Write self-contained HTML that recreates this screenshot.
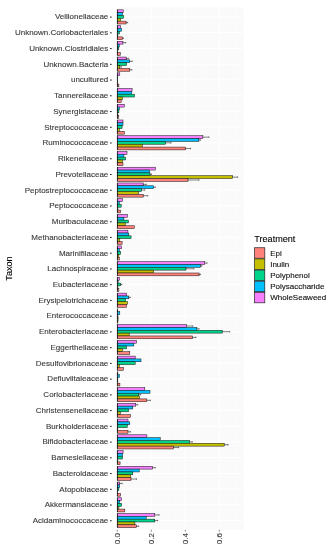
<!DOCTYPE html>
<html><head><meta charset="utf-8"><style>
html,body{margin:0;padding:0;background:#fff;}
svg{display:block;will-change:transform;font-family:"Liberation Sans",sans-serif;}
</style></head><body>
<svg width="332" height="550" viewBox="0 0 332 550">
<rect width="332" height="550" fill="#fff"/>
<rect x="117" y="7.5" width="126.5" height="522" fill="#FAFAFA"/>
<line x1="134.3" y1="7.5" x2="134.3" y2="529.5" stroke="#FFFFFF" stroke-width="0.5"/>
<line x1="168.3" y1="7.5" x2="168.3" y2="529.5" stroke="#FFFFFF" stroke-width="0.5"/>
<line x1="202.3" y1="7.5" x2="202.3" y2="529.5" stroke="#FFFFFF" stroke-width="0.5"/>
<line x1="236.3" y1="7.5" x2="236.3" y2="529.5" stroke="#FFFFFF" stroke-width="0.5"/>
<line x1="151.3" y1="7.5" x2="151.3" y2="529.5" stroke="#FFFFFF" stroke-width="1"/>
<line x1="185.3" y1="7.5" x2="185.3" y2="529.5" stroke="#FFFFFF" stroke-width="1"/>
<line x1="219.3" y1="7.5" x2="219.3" y2="529.5" stroke="#FFFFFF" stroke-width="1"/>
<line x1="117" y1="16.9" x2="243.5" y2="16.9" stroke="#FFFFFF" stroke-width="1"/>
<line x1="117" y1="32.64" x2="243.5" y2="32.64" stroke="#FFFFFF" stroke-width="1"/>
<line x1="117" y1="48.38" x2="243.5" y2="48.38" stroke="#FFFFFF" stroke-width="1"/>
<line x1="117" y1="64.12" x2="243.5" y2="64.12" stroke="#FFFFFF" stroke-width="1"/>
<line x1="117" y1="79.86" x2="243.5" y2="79.86" stroke="#FFFFFF" stroke-width="1"/>
<line x1="117" y1="95.6" x2="243.5" y2="95.6" stroke="#FFFFFF" stroke-width="1"/>
<line x1="117" y1="111.34" x2="243.5" y2="111.34" stroke="#FFFFFF" stroke-width="1"/>
<line x1="117" y1="127.08" x2="243.5" y2="127.08" stroke="#FFFFFF" stroke-width="1"/>
<line x1="117" y1="142.82" x2="243.5" y2="142.82" stroke="#FFFFFF" stroke-width="1"/>
<line x1="117" y1="158.56" x2="243.5" y2="158.56" stroke="#FFFFFF" stroke-width="1"/>
<line x1="117" y1="174.3" x2="243.5" y2="174.3" stroke="#FFFFFF" stroke-width="1"/>
<line x1="117" y1="190.04" x2="243.5" y2="190.04" stroke="#FFFFFF" stroke-width="1"/>
<line x1="117" y1="205.78" x2="243.5" y2="205.78" stroke="#FFFFFF" stroke-width="1"/>
<line x1="117" y1="221.52" x2="243.5" y2="221.52" stroke="#FFFFFF" stroke-width="1"/>
<line x1="117" y1="237.26" x2="243.5" y2="237.26" stroke="#FFFFFF" stroke-width="1"/>
<line x1="117" y1="253" x2="243.5" y2="253" stroke="#FFFFFF" stroke-width="1"/>
<line x1="117" y1="268.74" x2="243.5" y2="268.74" stroke="#FFFFFF" stroke-width="1"/>
<line x1="117" y1="284.48" x2="243.5" y2="284.48" stroke="#FFFFFF" stroke-width="1"/>
<line x1="117" y1="300.22" x2="243.5" y2="300.22" stroke="#FFFFFF" stroke-width="1"/>
<line x1="117" y1="315.96" x2="243.5" y2="315.96" stroke="#FFFFFF" stroke-width="1"/>
<line x1="117" y1="331.7" x2="243.5" y2="331.7" stroke="#FFFFFF" stroke-width="1"/>
<line x1="117" y1="347.44" x2="243.5" y2="347.44" stroke="#FFFFFF" stroke-width="1"/>
<line x1="117" y1="363.18" x2="243.5" y2="363.18" stroke="#FFFFFF" stroke-width="1"/>
<line x1="117" y1="378.92" x2="243.5" y2="378.92" stroke="#FFFFFF" stroke-width="1"/>
<line x1="117" y1="394.66" x2="243.5" y2="394.66" stroke="#FFFFFF" stroke-width="1"/>
<line x1="117" y1="410.4" x2="243.5" y2="410.4" stroke="#FFFFFF" stroke-width="1"/>
<line x1="117" y1="426.14" x2="243.5" y2="426.14" stroke="#FFFFFF" stroke-width="1"/>
<line x1="117" y1="441.88" x2="243.5" y2="441.88" stroke="#FFFFFF" stroke-width="1"/>
<line x1="117" y1="457.62" x2="243.5" y2="457.62" stroke="#FFFFFF" stroke-width="1"/>
<line x1="117" y1="473.36" x2="243.5" y2="473.36" stroke="#FFFFFF" stroke-width="1"/>
<line x1="117" y1="489.1" x2="243.5" y2="489.1" stroke="#FFFFFF" stroke-width="1"/>
<line x1="117" y1="504.84" x2="243.5" y2="504.84" stroke="#FFFFFF" stroke-width="1"/>
<line x1="117" y1="520.58" x2="243.5" y2="520.58" stroke="#FFFFFF" stroke-width="1"/>
<g stroke="#111" stroke-width="0.5"><rect x="117.3" y="9.82" width="5.95" height="2.83" fill="#F67FFF"/><rect x="117.3" y="12.65" width="5.2" height="2.83" fill="#00C1FF"/><rect x="117.3" y="15.48" width="6.3" height="2.83" fill="#00D48B"/><rect x="117.3" y="18.32" width="3.4" height="2.83" fill="#C4C000"/><rect x="117.3" y="21.15" width="8.8" height="2.83" fill="#FF837A"/><rect x="117.3" y="25.56" width="3.4" height="2.83" fill="#F67FFF"/><rect x="117.3" y="28.39" width="4.3" height="2.83" fill="#00C1FF"/><rect x="117.3" y="31.22" width="2.1" height="2.83" fill="#00D48B"/><rect x="117.3" y="34.06" width="0.5" height="2.83" fill="#C4C000"/><rect x="117.3" y="36.89" width="5.2" height="2.83" fill="#FF837A"/><rect x="117.3" y="41.3" width="5.7" height="2.83" fill="#F67FFF"/><rect x="117.3" y="44.13" width="2" height="2.83" fill="#00C1FF"/><rect x="117.3" y="46.96" width="1.5" height="2.83" fill="#00D48B"/><rect x="117.3" y="49.8" width="0.4" height="2.83" fill="#C4C000"/><rect x="117.3" y="52.63" width="3" height="2.83" fill="#FF837A"/><rect x="117.3" y="57.04" width="8.9" height="2.83" fill="#F67FFF"/><rect x="117.3" y="59.87" width="12.5" height="2.83" fill="#00C1FF"/><rect x="117.3" y="62.7" width="9.4" height="2.83" fill="#00D48B"/><rect x="117.3" y="65.54" width="2.5" height="2.83" fill="#C4C000"/><rect x="117.3" y="68.37" width="12.5" height="2.83" fill="#FF837A"/><rect x="117.3" y="72.78" width="2.5" height="2.83" fill="#F67FFF"/><rect x="117.3" y="75.61" width="0.4" height="2.83" fill="#00C1FF"/><rect x="117.3" y="78.44" width="0.4" height="2.83" fill="#00D48B"/><rect x="117.3" y="81.28" width="0.4" height="2.83" fill="#C4C000"/><rect x="117.3" y="84.11" width="1.6" height="2.83" fill="#FF837A"/><rect x="117.3" y="88.52" width="14.8" height="2.83" fill="#F67FFF"/><rect x="117.3" y="91.35" width="14.4" height="2.83" fill="#00C1FF"/><rect x="117.3" y="94.18" width="17.1" height="2.83" fill="#00D48B"/><rect x="117.3" y="97.02" width="5.1" height="2.83" fill="#C4C000"/><rect x="117.3" y="99.85" width="3.9" height="2.83" fill="#FF837A"/><rect x="117.3" y="104.26" width="7" height="2.83" fill="#F67FFF"/><rect x="117.3" y="107.09" width="2" height="2.83" fill="#00C1FF"/><rect x="117.3" y="109.92" width="1.6" height="2.83" fill="#00D48B"/><rect x="117.3" y="112.76" width="0.6" height="2.83" fill="#C4C000"/><rect x="117.3" y="115.59" width="1.5" height="2.83" fill="#FF837A"/><rect x="117.3" y="120" width="5.7" height="2.83" fill="#F67FFF"/><rect x="117.3" y="122.83" width="5.7" height="2.83" fill="#00C1FF"/><rect x="117.3" y="125.66" width="4.8" height="2.83" fill="#00D48B"/><rect x="117.3" y="128.5" width="2" height="2.83" fill="#C4C000"/><rect x="117.3" y="131.33" width="7" height="2.83" fill="#FF837A"/><rect x="117.3" y="135.74" width="85.6" height="2.83" fill="#F67FFF"/><rect x="117.3" y="138.57" width="81.6" height="2.83" fill="#00C1FF"/><rect x="117.3" y="141.4" width="48.3" height="2.83" fill="#00D48B"/><rect x="117.3" y="144.24" width="25.1" height="2.83" fill="#C4C000"/><rect x="117.3" y="147.07" width="68.3" height="2.83" fill="#FF837A"/><rect x="117.3" y="151.48" width="9.7" height="2.83" fill="#F67FFF"/><rect x="117.3" y="154.31" width="6.6" height="2.83" fill="#00C1FF"/><rect x="117.3" y="157.14" width="8.4" height="2.83" fill="#00D48B"/><rect x="117.3" y="159.98" width="5.2" height="2.83" fill="#C4C000"/><rect x="117.3" y="162.81" width="5.7" height="2.83" fill="#FF837A"/><rect x="117.3" y="167.22" width="38.1" height="2.83" fill="#F67FFF"/><rect x="117.3" y="170.05" width="32.2" height="2.83" fill="#00C1FF"/><rect x="117.3" y="172.88" width="32.8" height="2.83" fill="#00D48B"/><rect x="117.3" y="175.72" width="115.3" height="2.83" fill="#C4C000"/><rect x="117.3" y="178.55" width="70.7" height="2.83" fill="#FF837A"/><rect x="117.3" y="182.96" width="25.9" height="2.83" fill="#F67FFF"/><rect x="117.3" y="185.79" width="36.4" height="2.83" fill="#00C1FF"/><rect x="117.3" y="188.62" width="24.4" height="2.83" fill="#00D48B"/><rect x="117.3" y="191.46" width="21.3" height="2.83" fill="#C4C000"/><rect x="117.3" y="194.29" width="25.9" height="2.83" fill="#FF837A"/><rect x="117.3" y="198.7" width="5.2" height="2.83" fill="#F67FFF"/><rect x="117.3" y="201.53" width="2.1" height="2.83" fill="#00C1FF"/><rect x="117.3" y="204.36" width="3.9" height="2.83" fill="#00D48B"/><rect x="117.3" y="207.2" width="0.6" height="2.83" fill="#C4C000"/><rect x="117.3" y="210.03" width="3.4" height="2.83" fill="#FF837A"/><rect x="117.3" y="214.44" width="10.2" height="2.83" fill="#F67FFF"/><rect x="117.3" y="217.27" width="6.6" height="2.83" fill="#00C1FF"/><rect x="117.3" y="220.1" width="11.1" height="2.83" fill="#00D48B"/><rect x="117.3" y="222.94" width="7.9" height="2.83" fill="#C4C000"/><rect x="117.3" y="225.77" width="17" height="2.83" fill="#FF837A"/><rect x="117.3" y="230.18" width="10.6" height="2.83" fill="#F67FFF"/><rect x="117.3" y="233.01" width="11.5" height="2.83" fill="#00C1FF"/><rect x="117.3" y="235.84" width="13.8" height="2.83" fill="#00D48B"/><rect x="117.3" y="238.68" width="2.5" height="2.83" fill="#C4C000"/><rect x="117.3" y="241.51" width="4.8" height="2.83" fill="#FF837A"/><rect x="117.3" y="245.92" width="4.3" height="2.83" fill="#F67FFF"/><rect x="117.3" y="248.75" width="2.1" height="2.83" fill="#00C1FF"/><rect x="117.3" y="251.58" width="3.4" height="2.83" fill="#00D48B"/><rect x="117.3" y="254.42" width="1.6" height="2.83" fill="#C4C000"/><rect x="117.3" y="257.25" width="2.1" height="2.83" fill="#FF837A"/><rect x="117.3" y="261.66" width="87.5" height="2.83" fill="#F67FFF"/><rect x="117.3" y="264.49" width="83.2" height="2.83" fill="#00C1FF"/><rect x="117.3" y="267.32" width="68.7" height="2.83" fill="#00D48B"/><rect x="117.3" y="270.16" width="36.4" height="2.83" fill="#C4C000"/><rect x="117.3" y="272.99" width="81.8" height="2.83" fill="#FF837A"/><rect x="117.3" y="277.4" width="2.1" height="2.83" fill="#F67FFF"/><rect x="117.3" y="280.23" width="0.8" height="2.83" fill="#00C1FF"/><rect x="117.3" y="283.06" width="3.4" height="2.83" fill="#00D48B"/><rect x="117.3" y="285.9" width="0.6" height="2.83" fill="#C4C000"/><rect x="117.3" y="288.73" width="1.6" height="2.83" fill="#FF837A"/><rect x="117.3" y="293.14" width="9.3" height="2.83" fill="#F67FFF"/><rect x="117.3" y="295.97" width="11.5" height="2.83" fill="#00C1FF"/><rect x="117.3" y="298.8" width="8.4" height="2.83" fill="#00D48B"/><rect x="117.3" y="301.64" width="10.2" height="2.83" fill="#C4C000"/><rect x="117.3" y="304.47" width="9.3" height="2.83" fill="#FF837A"/><rect x="117.3" y="308.88" width="0.5" height="2.83" fill="#F67FFF"/><rect x="117.3" y="311.71" width="2.5" height="2.83" fill="#00C1FF"/><rect x="117.3" y="314.54" width="0.6" height="2.83" fill="#00D48B"/><rect x="117.3" y="317.38" width="0.8" height="2.83" fill="#C4C000"/><rect x="117.3" y="320.21" width="0.6" height="2.83" fill="#FF837A"/><rect x="117.3" y="324.62" width="69.1" height="2.83" fill="#F67FFF"/><rect x="117.3" y="327.45" width="79.6" height="2.83" fill="#00C1FF"/><rect x="117.3" y="330.28" width="104.9" height="2.83" fill="#00D48B"/><rect x="117.3" y="333.12" width="11.9" height="2.83" fill="#C4C000"/><rect x="117.3" y="335.95" width="75" height="2.83" fill="#FF837A"/><rect x="117.3" y="340.36" width="19.2" height="2.83" fill="#F67FFF"/><rect x="117.3" y="343.19" width="16.5" height="2.83" fill="#00C1FF"/><rect x="117.3" y="346.02" width="9.3" height="2.83" fill="#00D48B"/><rect x="117.3" y="348.86" width="5.2" height="2.83" fill="#C4C000"/><rect x="117.3" y="351.69" width="12.5" height="2.83" fill="#FF837A"/><rect x="117.3" y="356.1" width="17.9" height="2.83" fill="#F67FFF"/><rect x="117.3" y="358.93" width="23.7" height="2.83" fill="#00C1FF"/><rect x="117.3" y="361.76" width="17.9" height="2.83" fill="#00D48B"/><rect x="117.3" y="364.6" width="2.1" height="2.83" fill="#C4C000"/><rect x="117.3" y="367.43" width="6.1" height="2.83" fill="#FF837A"/><rect x="117.3" y="371.84" width="0.6" height="2.83" fill="#F67FFF"/><rect x="117.3" y="374.67" width="2.2" height="2.83" fill="#00C1FF"/><rect x="117.3" y="377.5" width="0.5" height="2.83" fill="#00D48B"/><rect x="117.3" y="380.34" width="0.5" height="2.83" fill="#C4C000"/><rect x="117.3" y="383.17" width="2.6" height="2.83" fill="#FF837A"/><rect x="117.3" y="387.58" width="27.5" height="2.83" fill="#F67FFF"/><rect x="117.3" y="390.41" width="32.7" height="2.83" fill="#00C1FF"/><rect x="117.3" y="393.24" width="21.5" height="2.83" fill="#00D48B"/><rect x="117.3" y="396.08" width="22.1" height="2.83" fill="#C4C000"/><rect x="117.3" y="398.91" width="29.6" height="2.83" fill="#FF837A"/><rect x="117.3" y="403.32" width="18.5" height="2.83" fill="#F67FFF"/><rect x="117.3" y="406.15" width="15.5" height="2.83" fill="#00C1FF"/><rect x="117.3" y="408.98" width="11.3" height="2.83" fill="#00D48B"/><rect x="117.3" y="411.82" width="3.1" height="2.83" fill="#C4C000"/><rect x="117.3" y="414.65" width="13.1" height="2.83" fill="#FF837A"/><rect x="117.3" y="419.06" width="10.7" height="2.83" fill="#F67FFF"/><rect x="117.3" y="421.89" width="12.5" height="2.83" fill="#00C1FF"/><rect x="117.3" y="424.72" width="10" height="2.83" fill="#00D48B"/><rect x="117.3" y="427.56" width="0.5" height="2.83" fill="#C4C000"/><rect x="117.3" y="430.39" width="10.7" height="2.83" fill="#FF837A"/><rect x="117.3" y="434.8" width="29.6" height="2.83" fill="#F67FFF"/><rect x="117.3" y="437.63" width="42.9" height="2.83" fill="#00C1FF"/><rect x="117.3" y="440.46" width="72.3" height="2.83" fill="#00D48B"/><rect x="117.3" y="443.3" width="106.9" height="2.83" fill="#C4C000"/><rect x="117.3" y="446.13" width="56" height="2.83" fill="#FF837A"/><rect x="117.3" y="450.54" width="5.8" height="2.83" fill="#F67FFF"/><rect x="117.3" y="453.37" width="5.2" height="2.83" fill="#00C1FF"/><rect x="117.3" y="456.2" width="5.2" height="2.83" fill="#00D48B"/><rect x="117.3" y="459.04" width="0.5" height="2.83" fill="#C4C000"/><rect x="117.3" y="461.87" width="2.8" height="2.83" fill="#FF837A"/><rect x="117.3" y="466.28" width="35.3" height="2.83" fill="#F67FFF"/><rect x="117.3" y="469.11" width="21.9" height="2.83" fill="#00C1FF"/><rect x="117.3" y="471.94" width="15.5" height="2.83" fill="#00D48B"/><rect x="117.3" y="474.78" width="13.4" height="2.83" fill="#C4C000"/><rect x="117.3" y="477.61" width="13.7" height="2.83" fill="#FF837A"/><rect x="117.3" y="482.02" width="2.5" height="2.83" fill="#F67FFF"/><rect x="117.3" y="484.85" width="2.4" height="2.83" fill="#00C1FF"/><rect x="117.3" y="487.68" width="1.6" height="2.83" fill="#00D48B"/><rect x="117.3" y="490.52" width="0.4" height="2.83" fill="#C4C000"/><rect x="117.3" y="493.35" width="3.4" height="2.83" fill="#FF837A"/><rect x="117.3" y="497.76" width="4.3" height="2.83" fill="#F67FFF"/><rect x="117.3" y="500.59" width="2.5" height="2.83" fill="#00C1FF"/><rect x="117.3" y="503.42" width="4.3" height="2.83" fill="#00D48B"/><rect x="117.3" y="506.26" width="1.6" height="2.83" fill="#C4C000"/><rect x="117.3" y="509.09" width="7.5" height="2.83" fill="#FF837A"/><rect x="117.3" y="513.5" width="37.5" height="2.83" fill="#F67FFF"/><rect x="117.3" y="516.33" width="28.9" height="2.83" fill="#00C1FF"/><rect x="117.3" y="519.16" width="37.5" height="2.83" fill="#00D48B"/><rect x="117.3" y="522" width="17.6" height="2.83" fill="#C4C000"/><rect x="117.3" y="524.83" width="19.1" height="2.83" fill="#FF837A"/></g>
<g stroke="#000" stroke-width="0.5" fill="none"><path d="M125.8 22.57H127.7M127.7 21.87V23.27"/><path d="M122.2 38.31H123.4M123.4 37.61V39.01"/><path d="M122.7 42.71H125.8M125.8 42.01V43.41"/><path d="M125.9 58.45H128.4M128.4 57.75V59.15"/><path d="M129.5 61.29H132.2M132.2 60.59V61.99"/><path d="M119.5 66.95H121.4M121.4 66.25V67.65"/><path d="M129.5 69.79H131.9M131.9 69.09V70.49"/><path d="M202.6 137.15H208.9M208.9 136.45V137.85"/><path d="M198.6 139.99H200.4M200.4 139.29V140.69"/><path d="M165.3 142.82H171M171 142.12V143.52"/><path d="M185.3 148.49H190.6M190.6 147.79V149.19"/><path d="M149.8 174.3H151.4M151.4 173.6V175"/><path d="M232.3 177.13H237.6M237.6 176.43V177.83"/><path d="M187.7 179.97H199M199 179.27V180.67"/><path d="M142.9 184.37H146.3M146.3 183.67V185.07"/><path d="M153.4 187.21H155.3M155.3 186.51V187.91"/><path d="M141.4 190.04H144.8M144.8 189.34V190.74"/><path d="M142.9 195.71H147.8M147.8 195.01V196.41"/><path d="M204.5 263.07H207M207 262.37V263.77"/><path d="M200.2 265.91H201.9M201.9 265.21V266.61"/><path d="M185.7 268.74H193.9M193.9 268.04V269.44"/><path d="M198.8 274.41H200.4M200.4 273.71V275.11"/><path d="M120.4 284.48H121.9M121.9 283.78V285.18"/><path d="M128.5 297.39H130.3M130.3 296.69V298.09"/><path d="M186.1 326.03H192.8M192.8 325.33V326.73"/><path d="M196.6 328.87H199.1M199.1 328.17V329.57"/><path d="M221.9 331.7H229.7M229.7 331V332.4"/><path d="M192 337.37H196M196 336.67V338.07"/><path d="M138.5 394.66H140.7M140.7 393.96V395.36"/><path d="M146.6 400.33H150.3M150.3 399.63V401.03"/><path d="M135.5 404.73H137.7M137.7 404.03V405.43"/><path d="M127.7 431.81H130.4M130.4 431.11V432.51"/><path d="M189.3 441.88H192.3M192.3 441.18V442.58"/><path d="M223.9 444.71H228.1M228.1 444.01V445.41"/><path d="M173 447.55H178.7M178.7 446.85V448.25"/><path d="M152.3 467.69H155.2M155.2 466.99V468.39"/><path d="M130.7 479.03H136.5M136.5 478.33V479.73"/><path d="M119.5 483.43H122.2M122.2 482.73V484.13"/><path d="M154.5 514.91H159.1M159.1 514.21V515.61"/><path d="M154.5 520.58H157.6M157.6 519.88V521.28"/><path d="M136.1 526.25H138.7M138.7 525.55V526.95"/></g>
<g stroke="#111" stroke-width="0.7"><line x1="117.4" y1="9.82" x2="117.4" y2="23.98"/><line x1="117.4" y1="25.56" x2="117.4" y2="39.72"/><line x1="117.4" y1="41.3" x2="117.4" y2="55.46"/><line x1="117.4" y1="57.04" x2="117.4" y2="71.2"/><line x1="117.4" y1="72.78" x2="117.4" y2="86.94"/><line x1="117.4" y1="88.52" x2="117.4" y2="102.68"/><line x1="117.4" y1="104.26" x2="117.4" y2="118.42"/><line x1="117.4" y1="120" x2="117.4" y2="134.16"/><line x1="117.4" y1="135.74" x2="117.4" y2="149.9"/><line x1="117.4" y1="151.48" x2="117.4" y2="165.64"/><line x1="117.4" y1="167.22" x2="117.4" y2="181.38"/><line x1="117.4" y1="182.96" x2="117.4" y2="197.12"/><line x1="117.4" y1="198.7" x2="117.4" y2="212.86"/><line x1="117.4" y1="214.44" x2="117.4" y2="228.6"/><line x1="117.4" y1="230.18" x2="117.4" y2="244.34"/><line x1="117.4" y1="245.92" x2="117.4" y2="260.08"/><line x1="117.4" y1="261.66" x2="117.4" y2="275.82"/><line x1="117.4" y1="277.4" x2="117.4" y2="291.56"/><line x1="117.4" y1="293.14" x2="117.4" y2="307.3"/><line x1="117.4" y1="308.88" x2="117.4" y2="323.04"/><line x1="117.4" y1="324.62" x2="117.4" y2="338.78"/><line x1="117.4" y1="340.36" x2="117.4" y2="354.52"/><line x1="117.4" y1="356.1" x2="117.4" y2="370.26"/><line x1="117.4" y1="371.84" x2="117.4" y2="386"/><line x1="117.4" y1="387.58" x2="117.4" y2="401.74"/><line x1="117.4" y1="403.32" x2="117.4" y2="417.48"/><line x1="117.4" y1="419.06" x2="117.4" y2="433.22"/><line x1="117.4" y1="434.8" x2="117.4" y2="448.96"/><line x1="117.4" y1="450.54" x2="117.4" y2="464.7"/><line x1="117.4" y1="466.28" x2="117.4" y2="480.44"/><line x1="117.4" y1="482.02" x2="117.4" y2="496.18"/><line x1="117.4" y1="497.76" x2="117.4" y2="511.92"/><line x1="117.4" y1="513.5" x2="117.4" y2="527.66"/></g>
<g font-size="8" fill="#3A3A3A" stroke="#3A3A3A" stroke-width="0.12" text-anchor="end"><text x="108.3" y="19.4">Veillonellaceae</text><text x="108.3" y="35.14">Unknown.Coriobacteriales</text><text x="108.3" y="50.88">Unknown.Clostridiales</text><text x="108.3" y="66.62">Unknown.Bacteria</text><text x="108.3" y="82.36">uncultured</text><text x="108.3" y="98.1">Tannerellaceae</text><text x="108.3" y="113.84">Synergistaceae</text><text x="108.3" y="129.58">Streptococcaceae</text><text x="108.3" y="145.32">Ruminococcaceae</text><text x="108.3" y="161.06">Rikenellaceae</text><text x="108.3" y="176.8">Prevotellaceae</text><text x="108.3" y="192.54">Peptostreptococcaceae</text><text x="108.3" y="208.28">Peptococcaceae</text><text x="108.3" y="224.02">Muribaculaceae</text><text x="108.3" y="239.76">Methanobacteriaceae</text><text x="108.3" y="255.5">Marinifilaceae</text><text x="108.3" y="271.24">Lachnospiraceae</text><text x="108.3" y="286.98">Eubacteriaceae</text><text x="108.3" y="302.72">Erysipelotrichaceae</text><text x="108.3" y="318.46">Enterococcaceae</text><text x="108.3" y="334.2">Enterobacteriaceae</text><text x="108.3" y="349.94">Eggerthellaceae</text><text x="108.3" y="365.68">Desulfovibrionaceae</text><text x="108.3" y="381.42">Defluviitaleaceae</text><text x="108.3" y="397.16">Coriobacteriaceae</text><text x="108.3" y="412.9">Christensenellaceae</text><text x="108.3" y="428.64">Burkholderiaceae</text><text x="108.3" y="444.38">Bifidobacteriaceae</text><text x="108.3" y="460.12">Barnesiellaceae</text><text x="108.3" y="475.86">Bacteroidaceae</text><text x="108.3" y="491.6">Atopobiaceae</text><text x="108.3" y="507.34">Akkermansiaceae</text><text x="108.3" y="523.08">Acidaminococcaceae</text></g>
<g stroke="#222" stroke-width="1"><line x1="110" y1="17.1" x2="111.7" y2="17.1"/><line x1="110" y1="32.84" x2="111.7" y2="32.84"/><line x1="110" y1="48.58" x2="111.7" y2="48.58"/><line x1="110" y1="64.32" x2="111.7" y2="64.32"/><line x1="110" y1="80.06" x2="111.7" y2="80.06"/><line x1="110" y1="95.8" x2="111.7" y2="95.8"/><line x1="110" y1="111.54" x2="111.7" y2="111.54"/><line x1="110" y1="127.28" x2="111.7" y2="127.28"/><line x1="110" y1="143.02" x2="111.7" y2="143.02"/><line x1="110" y1="158.76" x2="111.7" y2="158.76"/><line x1="110" y1="174.5" x2="111.7" y2="174.5"/><line x1="110" y1="190.24" x2="111.7" y2="190.24"/><line x1="110" y1="205.98" x2="111.7" y2="205.98"/><line x1="110" y1="221.72" x2="111.7" y2="221.72"/><line x1="110" y1="237.46" x2="111.7" y2="237.46"/><line x1="110" y1="253.2" x2="111.7" y2="253.2"/><line x1="110" y1="268.94" x2="111.7" y2="268.94"/><line x1="110" y1="284.68" x2="111.7" y2="284.68"/><line x1="110" y1="300.42" x2="111.7" y2="300.42"/><line x1="110" y1="316.16" x2="111.7" y2="316.16"/><line x1="110" y1="331.9" x2="111.7" y2="331.9"/><line x1="110" y1="347.64" x2="111.7" y2="347.64"/><line x1="110" y1="363.38" x2="111.7" y2="363.38"/><line x1="110" y1="379.12" x2="111.7" y2="379.12"/><line x1="110" y1="394.86" x2="111.7" y2="394.86"/><line x1="110" y1="410.6" x2="111.7" y2="410.6"/><line x1="110" y1="426.34" x2="111.7" y2="426.34"/><line x1="110" y1="442.08" x2="111.7" y2="442.08"/><line x1="110" y1="457.82" x2="111.7" y2="457.82"/><line x1="110" y1="473.56" x2="111.7" y2="473.56"/><line x1="110" y1="489.3" x2="111.7" y2="489.3"/><line x1="110" y1="505.04" x2="111.7" y2="505.04"/><line x1="110" y1="520.78" x2="111.7" y2="520.78"/></g>
<g stroke="#333" stroke-width="0.6"><line x1="117.3" y1="529.8" x2="117.3" y2="531.6"/><line x1="151.3" y1="529.8" x2="151.3" y2="531.6"/><line x1="185.3" y1="529.8" x2="185.3" y2="531.6"/><line x1="219.3" y1="529.8" x2="219.3" y2="531.6"/></g>
<g font-size="8" fill="#3A3A3A" stroke="#3A3A3A" stroke-width="0.12" text-anchor="end"><text transform="translate(120.1 533.1) rotate(-90)">0.0</text><text transform="translate(154.1 533.1) rotate(-90)">0.2</text><text transform="translate(188.1 533.1) rotate(-90)">0.4</text><text transform="translate(222.1 533.1) rotate(-90)">0.6</text></g>
<text transform="translate(11.7 268.5) rotate(-90)" font-size="9.1" fill="#000" stroke="#000" stroke-width="0.1" text-anchor="middle">Taxon</text>
<text x="254.3" y="241.7" font-size="9.1" fill="#000" stroke="#000" stroke-width="0.1">Treatment</text>
<rect x="254.6" y="247.75" width="10.2" height="10.45" fill="#FF837A" stroke="#222" stroke-width="0.7"/>
<text x="270.2" y="255.6" font-size="8" fill="#111" stroke="#111" stroke-width="0.12">Epi</text>
<rect x="254.6" y="258.9" width="10.2" height="10.45" fill="#C4C000" stroke="#222" stroke-width="0.7"/>
<text x="270.2" y="266.75" font-size="8" fill="#111" stroke="#111" stroke-width="0.12">Inulin</text>
<rect x="254.6" y="270.05" width="10.2" height="10.45" fill="#00D48B" stroke="#222" stroke-width="0.7"/>
<text x="270.2" y="277.9" font-size="8" fill="#111" stroke="#111" stroke-width="0.12">Polyphenol</text>
<rect x="254.6" y="281.2" width="10.2" height="10.45" fill="#00C1FF" stroke="#222" stroke-width="0.7"/>
<text x="270.2" y="289.05" font-size="8" fill="#111" stroke="#111" stroke-width="0.12">Polysaccharide</text>
<rect x="254.6" y="292.35" width="10.2" height="10.45" fill="#F67FFF" stroke="#222" stroke-width="0.7"/>
<text x="270.2" y="300.2" font-size="8" fill="#111" stroke="#111" stroke-width="0.12">WholeSeaweed</text>
</svg>
</body></html>
